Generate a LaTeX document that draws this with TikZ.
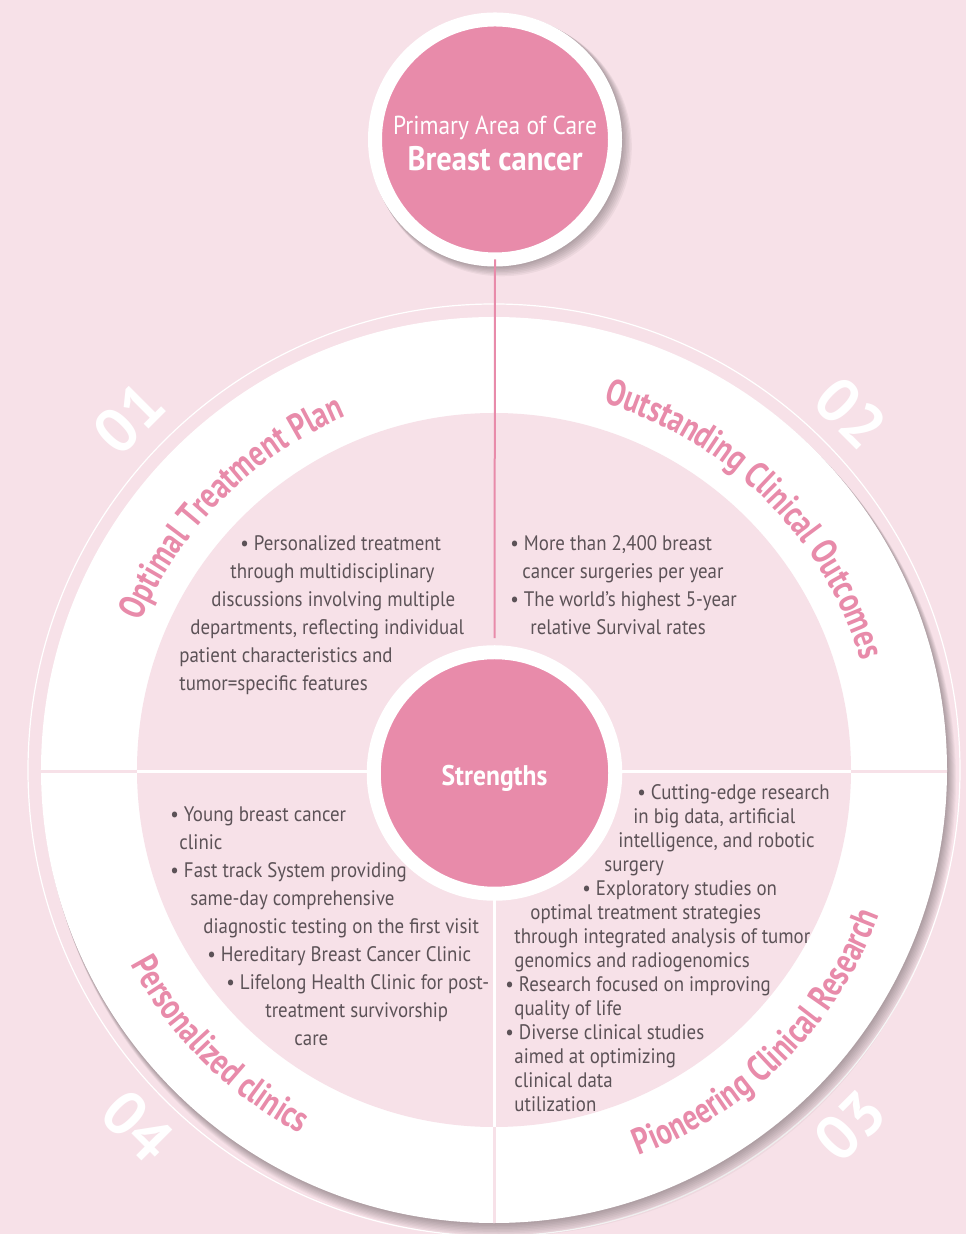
\documentclass[tikz,border=0pt]{standalone}
\usepackage{fontspec}
\setmainfont{PT Sans}[FakeStretch=0.9]
\newfontfamily\titlefam{PT Sans}[FakeStretch=0.78]
\newfontfamily\numfam{PT Sans}
\usetikzlibrary{decorations.text}
\definecolor{bgpink}{RGB}{247,225,232}
\definecolor{rosepink}{RGB}{232,139,170}
\definecolor{bodygray}{RGB}{92,82,87}
\newcommand\titlefont{\titlefam\bfseries\fontsize{18.5}{19}\selectfont}

\begin{document}
\begin{tikzpicture}[x=0.5pt, y=0.5pt, every node/.style={inner sep=0pt}]
\tikzstyle{hub}=[circle, fill=rosepink, draw=white, line width=7pt, minimum size=120pt, text=white, align=center]
\tikzstyle{numlab}=[text=white, font=\numfam\bfseries\fontsize{31}{31}\selectfont]
\tikzstyle{body}=[text=bodygray, align=left, anchor=north west, font=\fontsize{10.5}{14}\selectfont]
\tikzstyle{arctitle}=[decorate, decoration={text along path, text align=center, text color=rosepink}]
\fill[bgpink] (-494,-464) rectangle (472,770);
\useasboundingbox (-494,-464) rectangle (472,770);
\draw[white, line width=0.6pt] (0,0) circle[radius=466];
\foreach \i in {1,...,9}
  \fill[black, opacity=0.035] (\i*0.7,-\i*1.2) circle[radius=453+\i*0.3];
\fill[white] (0,0) circle[radius=453];
\fill[bgpink] (0,0) circle[radius=357];
\draw[bgpink, line width=1.5pt] (-453,-2) -- (453,-2) (0,-453) -- (0,-2);
\draw[white, line width=1.5pt] (-357,-2) -- (357,-2) (0,-357) -- (0,-2);
\foreach \i in {1,...,7}
  \fill[black, opacity=0.045] (1+\i,630.5-\i) circle[radius=127+\i*0.4];
\node[hub] (care) at (1,630.5) {\raisebox{0pt}[13pt][0pt]{\fontsize{13}{16}\selectfont Primary Area of Care}\\[5pt]{\bfseries\fontsize{17}{18}\selectfont Breast cancer}};
\node[hub, minimum size=120.75pt, text height=12.3pt, text depth=0pt] (strengths) at (0.5,-3) {\bfseries\fontsize{14.2}{15}\selectfont Strengths};
\draw[rosepink, line width=1pt, shorten <=-3.5pt, shorten >=3.6pt] (care.south) -- (strengths.north);
\path[arctitle, decoration={text={|\titlefont|Optimal Treatment Plan}}] (180:383) arc[start angle=180, end angle=90, radius=383];
\path[arctitle, decoration={text={|\titlefont|Outstanding Clinical Outcomes}}] (95:383) arc[start angle=95, end angle=-5, radius=383];
\path[arctitle, decoration={text={|\titlefont|Pioneering Clinical Research}}] (-95:412) arc[start angle=-95, end angle=5, radius=412];
\path[arctitle, decoration={text={|\titlefont|Personalized clinics}}] (180:412) arc[start angle=180, end angle=270, radius=412];
\node[numlab, rotate=45] (n01) at (136:507) {01};
\node[numlab, rotate=-45] (n02) at (45:505) {02};
\node[numlab, rotate=45] (n03) at (-45:503) {03};
\node[numlab, rotate=-45] (n04) at (225:504) {04};
\node[body] (plan) at (-315,235) {\hspace*{30.5pt}• Personalized treatment\\
\hspace*{25.5pt}through multidisciplinary\\
\hspace*{16pt}discussions involving multiple\\
\hspace*{5.5pt}departments, reflecting individual\\
patient characteristics and\\
tumor=specific features};
\node[body] (outcomes) at (16,235) {• More than 2,400 breast\\
\hspace*{6pt}cancer surgeries per year\\
• The world's highest 5-year\\
\hspace*{10pt}relative Survival rates};
\node[body] (clinics) at (-324,-36) {• Young breast cancer\\
\hspace*{4.5pt}clinic\\
• Fast track System providing\\
\hspace*{10pt}same-day comprehensive\\
\hspace*{16.5pt}diagnostic testing on the first visit\\
\hspace*{18.5pt}• Hereditary Breast Cancer Clinic\\
\hspace*{28pt}• Lifelong Health Clinic for post-\\
\hspace*{47.5pt}treatment survivorship\\
\hspace*{62pt}care};
\node[body, font=\fontsize{10.5}{12}\selectfont] (research) at (11,-14) {\hspace*{66pt}• Cutting-edge research\\
\hspace*{64pt}in big data, artificial\\
\hspace*{56.5pt}intelligence, and robotic\\
\hspace*{49.5pt}surgery\\
\hspace*{38.5pt}• Exploratory studies on\\
\hspace*{12.5pt}optimal treatment strategies\\
\hspace*{4.5pt}through integrated analysis of tumor\\
\hspace*{4.5pt}genomics and radiogenomics\\
• Research focused on improving\\
\hspace*{4.5pt}quality of life\\
• Diverse clinical studies\\
\hspace*{4.5pt}aimed at optimizing\\
\hspace*{4.5pt}clinical data\\
\hspace*{4.5pt}utilization};
\end{tikzpicture}
\end{document}
